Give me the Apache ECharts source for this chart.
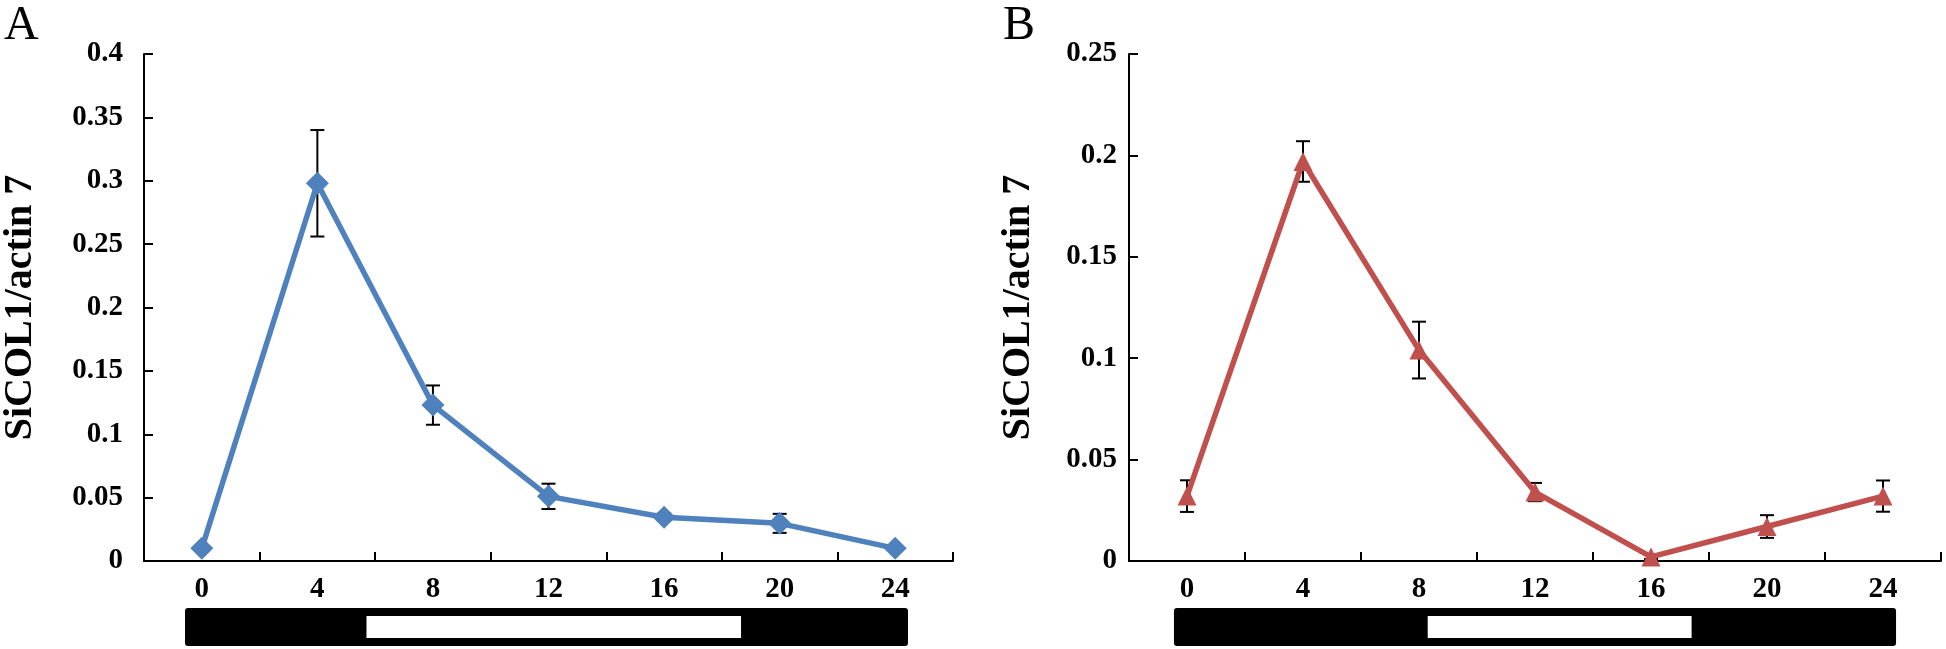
<!DOCTYPE html>
<html>
<head>
<meta charset="utf-8">
<script src="https://cdn.jsdelivr.net/npm/echarts@6/dist/echarts.min.js"></script>
<style>
html,body{margin:0;padding:0;background:#fff;}
#c{width:1946px;height:649px;}
</style>
</head>
<body>
<div id="c"></div>
<script>
// ---- data ----
const hours = ['0', '4', '8', '12', '16', '20', '24'];
const colA = [0.010, 0.298, 0.123, 0.051, 0.0345, 0.0297, 0.010];
const errA = [0.002, 0.042, 0.0155, 0.010, 0.003, 0.0075, 0.002];
const colB = [0.032, 0.197, 0.104, 0.034, 0.002, 0.017, 0.032];
const errB = [0.0078, 0.010, 0.014, 0.0045, 0.001, 0.0056, 0.0077];
const dayA = [-0.45, 24.45];   // whole photoperiod bar (hours)
const lightA = [5.8, 18.7];    // light period (hours)
const dayB = [-0.45, 24.45];
const lightB = [8.3, 17.4];
const yLabel = 'SiCOL1/actin 7';

const FONT = '"Liberation Serif", "Times New Roman", serif';
const blue = '#4F81BD', red = '#C0504D';

function errData(vals, errs) {
  return vals.map((v, i) => [i, v - errs[i], v + errs[i]]);
}
function errRender(params, api) {
  const lo = api.coord([api.value(0), api.value(1)]);
  const hi = api.coord([api.value(0), api.value(2)]);
  const cap = 7;
  const st = { stroke: '#000', lineWidth: 2 };
  return {
    type: 'group',
    children: [
      { type: 'line', shape: { x1: lo[0], y1: lo[1], x2: hi[0], y2: hi[1] }, style: st },
      { type: 'line', shape: { x1: lo[0] - cap, y1: lo[1], x2: lo[0] + cap, y2: lo[1] }, style: st },
      { type: 'line', shape: { x1: hi[0] - cap, y1: hi[1], x2: hi[0] + cap, y2: hi[1] }, style: st }
    ]
  };
}
function dayRender(params, api) {
  const a = api.coord([api.value(0), 0]);
  const b = api.coord([api.value(1), 1]);
  const l1 = api.coord([api.value(2), 0]);
  const l2 = api.coord([api.value(3), 1]);
  const h = a[1] - b[1];
  const pad = 8;
  return {
    type: 'group',
    children: [
      { type: 'rect', shape: { x: a[0], y: b[1], width: b[0] - a[0], height: h, r: 3 }, style: { fill: '#000' } },
      { type: 'rect', shape: { x: l1[0], y: b[1] + pad, width: l2[0] - l1[0], height: h - 2 * pad }, style: { fill: '#fff' } }
    ]
  };
}

const axisLine = { show: true, lineStyle: { color: '#000', width: 2 } };
const tick = { show: true, inside: true, length: 9, lineStyle: { color: '#000', width: 2 } };
const lbl = { color: '#000', fontFamily: FONT, fontWeight: 'bold', fontSize: 29 };

const grids = [
  { left: 140, top: 54, width: 813, height: 507 },
  { left: 1129, top: 54, width: 812, height: 507 },
  { left: 140, top: 608, width: 813, height: 38 },
  { left: 1129, top: 608, width: 812, height: 38 }
];

function catAxis(gi) {
  return {
    type: 'category', gridIndex: gi, data: hours, boundaryGap: true,
    axisLine: axisLine, axisTick: Object.assign({}, tick, { alignWithLabel: false }),
    axisLabel: Object.assign({}, lbl, { margin: 14 }), splitLine: { show: false }
  };
}
function valAxis(gi, max, interval, margin, gap) {
  return {
    type: 'value', gridIndex: gi, min: 0, max: max, interval: interval,
    axisLine: axisLine, axisTick: tick,
    axisLabel: Object.assign({}, lbl, { margin: margin }),
    splitLine: { show: false },
    name: yLabel, nameLocation: 'middle', nameGap: gap, nameRotate: 90,
    nameTextStyle: { color: '#000', fontFamily: FONT, fontWeight: 'bold', fontSize: 40 }
  };
}
function hiddenX(gi) {
  return { type: 'value', gridIndex: gi, min: -2, max: 26, show: false };
}
function hiddenY(gi) {
  return { type: 'value', gridIndex: gi, min: 0, max: 1, show: false };
}

const option = {
  animation: false,
  backgroundColor: '#fff',
  grid: grids,
  xAxis: [catAxis(0), catAxis(1), hiddenX(2), hiddenX(3)],
  yAxis: [valAxis(0, 0.4, 0.05, 21, 103), valAxis(1, 0.25, 0.05, 12, 90), hiddenY(2), hiddenY(3)],
  graphic: [
    { type: 'text', left: 4, top: 2, style: { text: 'A', font: '48px ' + FONT, fill: '#000' } },
    { type: 'text', left: 1003, top: 2, style: { text: 'B', font: '48px ' + FONT, fill: '#000' } }
  ],
  series: [
    { type: 'custom', xAxisIndex: 0, yAxisIndex: 0, renderItem: errRender, data: errData(colA, errA), z: 1 },
    { type: 'custom', xAxisIndex: 1, yAxisIndex: 1, renderItem: errRender, data: errData(colB, errB), z: 1 },
    {
      type: 'line', xAxisIndex: 0, yAxisIndex: 0, data: colA, z: 3,
      symbol: 'diamond', symbolSize: 23, itemStyle: { color: blue },
      lineStyle: { color: blue, width: 5.5 }
    },
    {
      type: 'line', xAxisIndex: 1, yAxisIndex: 1, data: colB, z: 3,
      symbol: 'triangle', symbolSize: 19, itemStyle: { color: red },
      lineStyle: { color: red, width: 5.5 }
    },
    { type: 'custom', xAxisIndex: 2, yAxisIndex: 2, renderItem: dayRender, data: [[dayA[0], dayA[1], lightA[0], lightA[1]]] },
    { type: 'custom', xAxisIndex: 3, yAxisIndex: 3, renderItem: dayRender, data: [[dayB[0], dayB[1], lightB[0], lightB[1]]] }
  ]
};

const chart = echarts.init(document.getElementById('c'), null, { renderer: 'canvas' });
chart.setOption(option);
</script>
</body>
</html>
